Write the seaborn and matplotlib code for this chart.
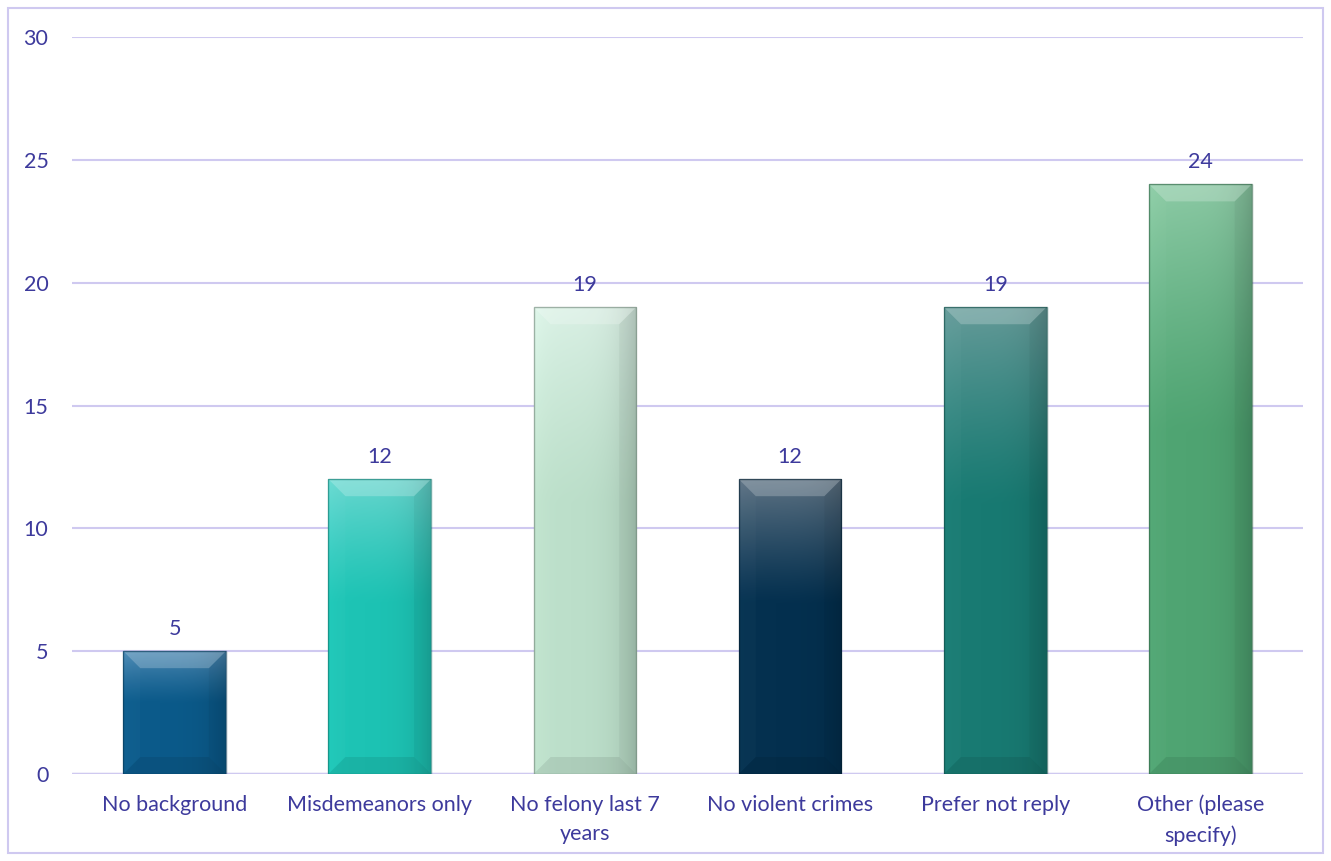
import numpy as np
import pandas as pd
import matplotlib
matplotlib.use("Agg")
import matplotlib.pyplot as plt
import matplotlib.colors as mcolors
from matplotlib.patches import Polygon, Rectangle
import seaborn as sns

# Survey responses
categories = ["No background", "Misdemeanors only", "No felony last 7\nyears",
              "No violent crimes", "Prefer not reply", "Other (please\nspecify)"]
counts = [5, 12, 19, 12, 19, 24]

# Base and highlight colour for each bar
base_colors = ["#0b5a8a", "#1dc3b4", "#bcdfca", "#04304f", "#187a72", "#4fa472"]
top_colors = ["#4b88b2", "#66d6ce", "#d9f0e4", "#5d7283", "#649a98", "#8bc9a4"]

text_color = "#3d3a9c"
grid_color = "#cfc9f0"

sns.set_theme(style="white")
plt.rcParams["font.family"] = ["Lato", "DejaVu Sans"]

W, H = 1331, 861
fig = plt.figure(figsize=(W / 100, H / 100), dpi=100)
ax = fig.add_axes([72 / W, 1 - 774 / H, (1303 - 72) / W, (774 - 37) / H])

df = pd.DataFrame({"category": categories, "count": counts})
sns.barplot(data=df, x="category", y="count", hue="category",
            palette=base_colors, width=0.5, legend=False, ax=ax,
            saturation=1, zorder=3)

ax.set_ylim(0, 30)
ax.set_xlim(-0.5, len(categories) - 0.5)
ax.set_yticks(np.arange(0, 31, 5))
ax.yaxis.grid(True, color=grid_color, linewidth=1.5, zorder=0)
ax.set_axisbelow(True)
for s in ["top", "right", "left", "bottom"]:
    ax.spines[s].set_visible(False)
ax.axhline(0, color=grid_color, linewidth=2.5, zorder=2)
ax.set_xlabel("")
ax.set_ylabel("")
ax.tick_params(axis="y", length=0, pad=17, labelsize=15.5, labelcolor=text_color)
ax.tick_params(axis="x", length=0, pad=15, labelsize=15.5, labelcolor=text_color)
for lbl in ax.get_xticklabels():
    lbl.set_linespacing(1.6)

# pixel -> data conversions for the bevel size
px_x = (len(categories)) / (1303 - 72)
px_y = 30 / (774 - 37)
bev_x = 17 * px_x
bev_y = 17 * px_y


def shade(rgb, f):
    rgb = np.asarray(rgb)
    return np.clip(rgb * f, 0, 1)


for patch, base, top in zip(ax.patches, base_colors, top_colors):
    x0, y0 = patch.get_x(), patch.get_y()
    w, h = patch.get_width(), patch.get_height()
    b = np.array(mcolors.to_rgb(base))
    t = np.array(mcolors.to_rgb(top))

    ny, nx = 300, 60
    fy = np.linspace(0, 1, ny)[:, None]  # 0 at top
    fx = np.linspace(0, 1, nx)[None, :]
    blend = np.clip(1 - fy / 0.42, 0, 1) ** 1.2
    img = b[None, None, :] * (1 - blend[..., None]) + t[None, None, :] * blend[..., None]
    img = img * np.ones((ny, nx, 1))
    darken = 1 - 0.16 * fx ** 5 + 0.03 * (1 - fx) ** 8
    img = np.clip(img * darken[..., None], 0, 1)
    im = ax.imshow(img, extent=(x0, x0 + w, y0, y0 + h), aspect="auto",
                   origin="upper", zorder=4, interpolation="bilinear")
    im.set_clip_path(patch)

    x1, y1 = x0 + w, y0 + h
    # top bevel (light)
    ax.add_patch(Polygon([(x0, y1), (x1, y1), (x1 - bev_x, y1 - bev_y), (x0 + bev_x, y1 - bev_y)],
                         closed=True, facecolor="white", alpha=0.22, lw=0, zorder=5))
    # left bevel
    ax.add_patch(Polygon([(x0, y0), (x0, y1), (x0 + bev_x, y1 - bev_y), (x0 + bev_x, y0 + bev_y)],
                         closed=True, facecolor="white", alpha=0.02, lw=0, zorder=5))
    # right bevel (shadow)
    ax.add_patch(Polygon([(x1, y0), (x1, y1), (x1 - bev_x, y1 - bev_y), (x1 - bev_x, y0 + bev_y)],
                         closed=True, facecolor="black", alpha=0.04, lw=0, zorder=5))
    # bottom bevel (shadow)
    ax.add_patch(Polygon([(x0, y0), (x1, y0), (x1 - bev_x, y0 + bev_y), (x0 + bev_x, y0 + bev_y)],
                         closed=True, facecolor="black", alpha=0.08, lw=0, zorder=5))
    # thin outline
    ax.add_patch(Rectangle((x0, y0), w, h, fill=False, edgecolor=shade(b, 0.6),
                           linewidth=1.0, alpha=0.6, zorder=6))
    patch.set_visible(False)

    ax.annotate(f"{int(round(h))}", (x0 + w / 2, y1), xytext=(0, 9),
                textcoords="offset points", ha="center", va="bottom",
                fontsize=15.5, color=text_color, zorder=7)

# outer chart border
fig.patches.append(Rectangle((8 / W, 1 - 853 / H), (1323 - 8) / W, (853 - 8) / H,
                             transform=fig.transFigure, fill=False,
                             edgecolor=grid_color, linewidth=1.5))

fig.savefig("out.png", dpi=100)
